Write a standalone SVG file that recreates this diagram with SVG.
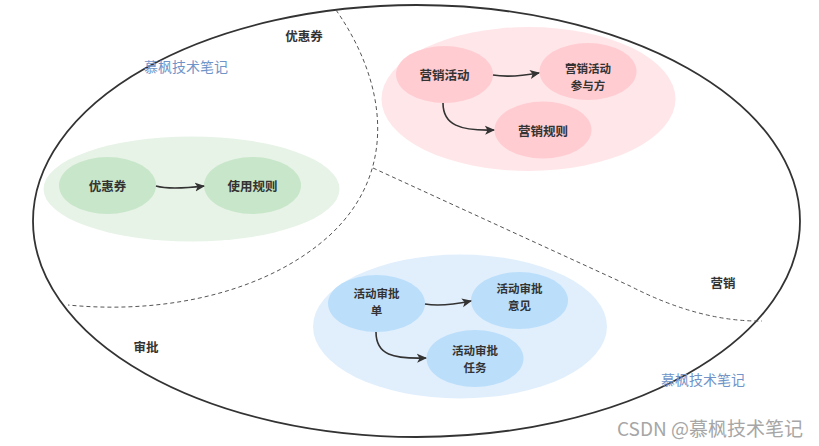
<svg xmlns="http://www.w3.org/2000/svg" width="819" height="446" viewBox="0 0 819 446">
<defs>
<style>
text{font-family:"Noto Sans CJK SC","Liberation Sans",sans-serif;}
.lbl{font-size:12.5px;font-weight:bold;fill:#333;text-anchor:middle;dominant-baseline:central;}
.lbl2{font-size:11.5px;font-weight:bold;fill:#333;text-anchor:middle;dominant-baseline:central;}
.sec{font-size:12.5px;font-weight:bold;fill:#333;text-anchor:middle;dominant-baseline:central;}
.wm{font-size:14px;fill:#7094c8;text-anchor:middle;dominant-baseline:central;}
.dash{fill:none;stroke:#555;stroke-width:1;stroke-dasharray:4 3;}
.conn{fill:none;stroke:#333;stroke-width:1.6;}
</style>
<marker id="arr" viewBox="0 0 10 10" refX="9" refY="5" markerWidth="10" markerHeight="10" markerUnits="userSpaceOnUse" orient="auto">
<path d="M0,0.5 L10,5 L0,9.5 L2.5,5 Z" fill="#333"/>
</marker>
</defs>
<rect width="819" height="446" fill="#fff"/>
<g id="frame">
<ellipse cx="416.5" cy="221" rx="383.5" ry="216" fill="none" stroke="#333" stroke-width="1.8"/>
<path class="dash" d="M336,10 C385,80 400,170 330,235 C270,290 170,315 68,305"/>
<path class="dash" d="M373,168 L630,286 Q700,322 762,321"/>
<text class="sec" x="304" y="35">优惠券</text>
<text class="sec" x="146" y="346">审批</text>
<text class="sec" x="723" y="282">营销</text>
<text class="wm" x="186" y="66">慕枫技术笔记</text>
<text class="wm" x="703" y="379">慕枫技术笔记</text>
<text x="803" y="427" font-size="19" fill="#a6a6a6" text-anchor="end" dominant-baseline="central">CSDN @慕枫技术笔记</text>
</g>
<g id="group-coupon">
<ellipse cx="191.5" cy="189" rx="148" ry="52.5" fill="#e7f3e7"/>
</g>
<g id="group-marketing">
<ellipse cx="528.5" cy="99" rx="147" ry="72" fill="#ffe6e9"/>
</g>
<g id="group-approval">
<ellipse cx="460" cy="326.5" rx="147" ry="72" fill="#e1effc"/>
</g>
<g id="node-coupon">
<ellipse cx="107.5" cy="185.5" rx="48.5" ry="28.5" fill="#c8e6c9"/>
<text class="lbl" x="107.5" y="185.5">优惠券</text>
</g>
<g id="node-rule">
<ellipse cx="252.5" cy="185.5" rx="48.5" ry="28.5" fill="#c8e6c9"/>
<text class="lbl" x="252.5" y="185.5">使用规则</text>
</g>
<g id="node-activity">
<ellipse cx="444.5" cy="74.5" rx="48.5" ry="28.5" fill="#ffccd2"/>
<text class="lbl" x="444.5" y="74.5">营销活动</text>
</g>
<g id="node-participant">
<ellipse cx="588" cy="71.5" rx="48.5" ry="28.5" fill="#ffccd2"/>
<text class="lbl2" x="588" y="67.5">营销活动</text>
<text class="lbl2" x="588" y="84.5">参与方</text>
</g>
<g id="node-mrule">
<ellipse cx="543" cy="130" rx="48.5" ry="28.5" fill="#ffccd2"/>
<text class="lbl" x="543" y="130">营销规则</text>
</g>
<g id="node-form">
<ellipse cx="376.5" cy="303.5" rx="48.5" ry="28.5" fill="#bbdefb"/>
<text class="lbl2" x="376.5" y="293">活动审批</text>
<text class="lbl2" x="376.5" y="310">单</text>
</g>
<g id="node-opinion">
<ellipse cx="519.5" cy="300.5" rx="48.5" ry="28.5" fill="#bbdefb"/>
<text class="lbl2" x="519.5" y="288">活动审批</text>
<text class="lbl2" x="519.5" y="305">意见</text>
</g>
<g id="node-task">
<ellipse cx="475" cy="358.5" rx="48.5" ry="28.5" fill="#bbdefb"/>
<text class="lbl2" x="475" y="349.5">活动审批</text>
<text class="lbl2" x="475" y="366.5">任务</text>
</g>
<g id="connectors">
<path class="conn" marker-end="url(#arr)" d="M156,186 Q170,190 204,186"/>
<path class="conn" marker-end="url(#arr)" d="M493,75 Q510,78 539,73"/>
<path class="conn" marker-end="url(#arr)" d="M443,103 C443,125 460,131 494,130"/>
<path class="conn" marker-end="url(#arr)" d="M425,304 Q442,307 471,301"/>
<path class="conn" marker-end="url(#arr)" d="M376,332 C376,355 393,359 426,358"/>
</g>
</svg>
